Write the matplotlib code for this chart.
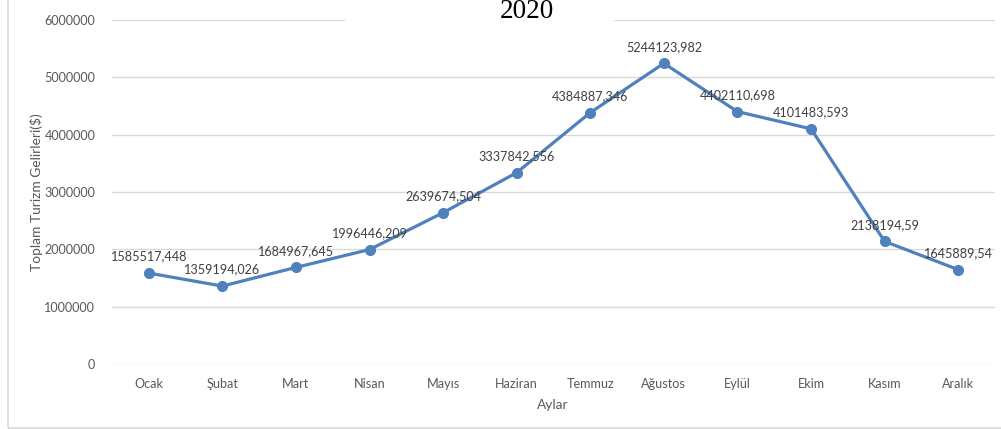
import matplotlib
matplotlib.use("Agg")
import matplotlib.pyplot as plt
from matplotlib.patches import Rectangle

months = ["Ocak", "Şubat", "Mart", "Nisan", "Mayıs", "Haziran", "Temmuz",
          "Ağustos", "Eylül", "Ekim", "Kasım", "Aralık"]
values = [1585517.448, 1359194.026, 1684967.645, 1996446.209, 2639674.504,
          3337842.556, 4384887.346, 5244123.982, 4402110.698, 4101483.593,
          2138194.59, 1645889.54]
yticks = [0, 1000000, 2000000, 3000000, 4000000, 5000000, 6000000]
title = "2020"
ylabel = "Toplam Turizm Gelirleri($)"
xlabel = "Aylar"

W, H = 1001, 429
fig = plt.figure(figsize=(W / 100, H / 100), dpi=100)
fig.patch.set_facecolor("white")

left, right, bottom, top = 112, 995, 364, 20
ax = fig.add_axes([left / W, 1 - bottom / H, (right - left) / W, (bottom - top) / H])

txt = "#595959"
font = "Lato"
line_c = "#4F81BD"

x = list(range(len(months)))
ax.plot(x, values, color=line_c, lw=2.3, marker="o", ms=7, zorder=3, clip_on=False)

def fmt(v):
    s = f"{v:.3f}".rstrip("0").rstrip(".")
    return s.replace(".", ",")

for xi, v in zip(x, values):
    ax.annotate(fmt(v), (xi, v), xytext=(0, 12), textcoords="offset points",
                ha="center", va="center", fontsize=9.1, color="#404040", family=font)

ax.set_xlim(-0.5, len(months) - 0.5)
ax.set_ylim(0, 6000000)
ax.set_yticks(yticks)
ax.set_yticklabels([str(t) for t in yticks])
ax.set_xticks(x)
ax.set_xticklabels(months)
ax.grid(axis="y", color="#d9d9d9", lw=1)
ax.set_axisbelow(True)
for s in ax.spines.values():
    s.set_visible(False)
ax.tick_params(axis="both", length=0, colors=txt, labelsize=9.1)
ax.tick_params(axis="y", pad=12)
ax.tick_params(axis="x", pad=10)
for lab in ax.get_xticklabels() + ax.get_yticklabels():
    lab.set_family(font)

fig.text(37 / W, 1 - 192 / H, ylabel, rotation=90, ha="center", va="center",
         color=txt, fontsize=9.9, family=font)
fig.text(553 / W, 1 - 405 / H, xlabel, ha="center", va="center",
         color=txt, fontsize=9.9, family=font)

# title with white background area
fig.patches.append(Rectangle((345 / W, 1 - 30 / H), (614 - 345) / W, 30 / H,
                             transform=fig.transFigure, facecolor="white",
                             edgecolor="none", zorder=1))
fig.text(527 / W, 1 - 12 / H, title, ha="center", va="center", color="black",
         fontsize=19.5, family="Liberation Serif", zorder=2)

# chart border (partly cropped)
fig.patches.append(Rectangle((7.5 / W, 1 - 428 / H), 1.0, 1.0,
                             transform=fig.transFigure, facecolor="none",
                             edgecolor="#d9d9d9", lw=1.2, zorder=0))

fig.savefig("out.png", dpi=100, facecolor="white")
